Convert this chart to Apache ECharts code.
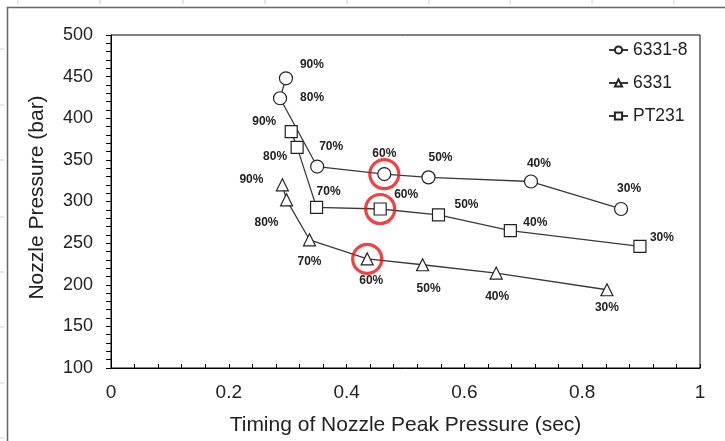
<!DOCTYPE html>
<html>
<head>
<meta charset="utf-8">
<script src="https://cdn.jsdelivr.net/npm/echarts@6/dist/echarts.min.js"></script>
<style>
  html, body { margin: 0; padding: 0; background: #fff; }
  #chart { width: 725px; height: 441px; }
</style>
</head>
<body>
<div id="chart"></div>
<script>
// Nozzle peak pressure vs. timing of the peak, per duty level
const seriesNames = ['6331-8', '6331', 'PT231'];
const dutyLabels = ['90%', '80%', '70%', '60%', '50%', '40%', '30%'];

const timing6331_8 = [0.297, 0.287, 0.350, 0.464, 0.539, 0.713, 0.866];
const pressure6331_8 = [448, 424, 342, 333, 329, 324, 291];

const timing6331 = [0.291, 0.298, 0.337, 0.435, 0.529, 0.654, 0.842];
const pressure6331 = [320, 302, 254, 231, 224, 214, 194];

const timingPT231 = [0.306, 0.316, 0.349, 0.457, 0.556, 0.678, 0.898];
const pressurePT231 = [384, 365, 293, 291, 284, 265, 246];

const xTicks = [0, 0.2, 0.4, 0.6, 0.8, 1];
const yTicks = [100, 150, 200, 250, 300, 350, 400, 450, 500];

// highlighted duty level
const highlightLabel = '60%';

// label placement (pixels, relative to each marker)
const offsets6331_8 = [[26, -14], [32, -1], [14, -20], [0, -20], [12, -20], [8, -18], [8, -20]];
const offsets6331 = [[-31, -5], [-20, 23], [0, 22], [4, 22], [6, 24], [1, 24], [0, 18]];
const offsetsPT231 = [[-27, -10], [-22, 9], [12, -16], [26, -14], [28, -10], [25, -8], [22, -9]];

const FONT = '"Liberation Sans", Arial, sans-serif';
const INK = '#222';

function buildData(xs, ys, offs) {
  return xs.map((x, i) => ({
    value: [x, ys[i]],
    label: {
      show: true,
      formatter: dutyLabels[i],
      position: 'inside',
      offset: offs[i]
    }
  }));
}

function lineSeries(name, symbol, size, xs, ys, offs) {
  return {
    name: name,
    type: 'line',
    symbol: symbol,
    symbolSize: size,
    showAllSymbol: true,
    data: buildData(xs, ys, offs),
    lineStyle: { color: '#3a3a3a', width: 1.3 },
    itemStyle: { color: '#fff', borderColor: '#222', borderWidth: 1.2 },
    label: {
      fontFamily: FONT, fontSize: 12, fontWeight: 'bold', color: INK,
      align: 'center', verticalAlign: 'middle'
    },
    emphasis: { disabled: true },
    z: 3
  };
}

const hi = dutyLabels.indexOf(highlightLabel);
const highlightPoints = [
  [timing6331_8[hi], pressure6331_8[hi]],
  [timingPT231[hi], pressurePT231[hi]],
  [timing6331[hi], pressure6331[hi]]
];

// faint sheet grid ticks around the frame
const frameGraphics = [];
[18, 100, 183, 265, 347, 429, 510, 592, 674].forEach(x => {
  frameGraphics.push({ type: 'line', shape: { x1: x, y1: 0, x2: x, y2: 4 }, style: { stroke: '#ccc', lineWidth: 1 }, silent: true });
});
[49, 105, 160, 217, 272, 327, 383, 438].forEach(y => {
  frameGraphics.push({ type: 'line', shape: { x1: 0, y1: y, x2: 4, y2: y }, style: { stroke: '#ccc', lineWidth: 1 }, silent: true });
});
frameGraphics.push({
  type: 'polyline',
  shape: { points: [[7.5, 441], [7.5, 7.5], [725, 7.5]] },
  style: { stroke: '#666', lineWidth: 1.5, fill: null },
  silent: true
});

const chart = echarts.init(document.getElementById('chart'), null, { renderer: 'canvas' });

chart.setOption({
  backgroundColor: '#fff',
  animation: false,
  graphic: frameGraphics,
  grid: {
    left: 111, right: 25, top: 35, bottom: 73,
    show: true, borderColor: '#000', borderWidth: 1, backgroundColor: 'transparent'
  },
  legend: {
    data: seriesNames,
    orient: 'vertical',
    left: 608,
    top: 41,
    padding: 0,
    itemWidth: 19,
    itemHeight: 9,
    itemGap: 15,
    textStyle: { fontFamily: FONT, fontSize: 17.5, color: INK },
    selectedMode: false
  },
  xAxis: {
    type: 'value',
    min: xTicks[0],
    max: xTicks[xTicks.length - 1],
    interval: 0.2,
    name: 'Timing of Nozzle Peak Pressure (sec)',
    nameLocation: 'middle',
    nameGap: 47,
    nameTextStyle: { fontFamily: FONT, fontSize: 21, color: INK },
    axisLine: { show: true, onZero: false, lineStyle: { color: '#000', width: 1 } },
    axisTick: { show: true, inside: true, length: 4, lineStyle: { color: '#000' } },
    minorTick: { show: true, splitNumber: 5, length: 4, lineStyle: { color: '#000' } },
    axisLabel: {
      fontFamily: FONT, fontSize: 19, color: INK, margin: 15,
      formatter: v => String(+v.toFixed(1))
    },
    splitLine: { show: false }
  },
  yAxis: {
    type: 'value',
    min: yTicks[0],
    max: yTicks[yTicks.length - 1],
    interval: 50,
    name: 'Nozzle Pressure (bar)',
    nameLocation: 'middle',
    nameGap: 63,
    nameTextStyle: { fontFamily: FONT, fontSize: 21, color: INK, padding: [0, 0, 0, 8] },
    axisLine: { show: true, onZero: false, lineStyle: { color: '#000', width: 1 } },
    axisTick: { show: true, inside: false, length: 5, lineStyle: { color: '#000' } },
    minorTick: { show: true, splitNumber: 5, length: 5, lineStyle: { color: '#000' } },
    axisLabel: { fontFamily: FONT, fontSize: 18, color: INK, margin: 18 },
    splitLine: { show: false }
  },
  series: [
    lineSeries(seriesNames[0], 'circle', 13, timing6331_8, pressure6331_8, offsets6331_8),
    lineSeries(seriesNames[1], 'triangle', 12, timing6331, pressure6331, offsets6331),
    lineSeries(seriesNames[2], 'rect', 12, timingPT231, pressurePT231, offsetsPT231),
    {
      name: 'highlight',
      type: 'scatter',
      data: highlightPoints,
      symbol: 'circle',
      symbolSize: 29,
      itemStyle: { color: 'rgba(0,0,0,0)', borderColor: '#ee1111', borderWidth: 3.2 },
      emphasis: { disabled: true },
      silent: true,
      z: 5
    }
  ]
});
</script>
</body>
</html>
